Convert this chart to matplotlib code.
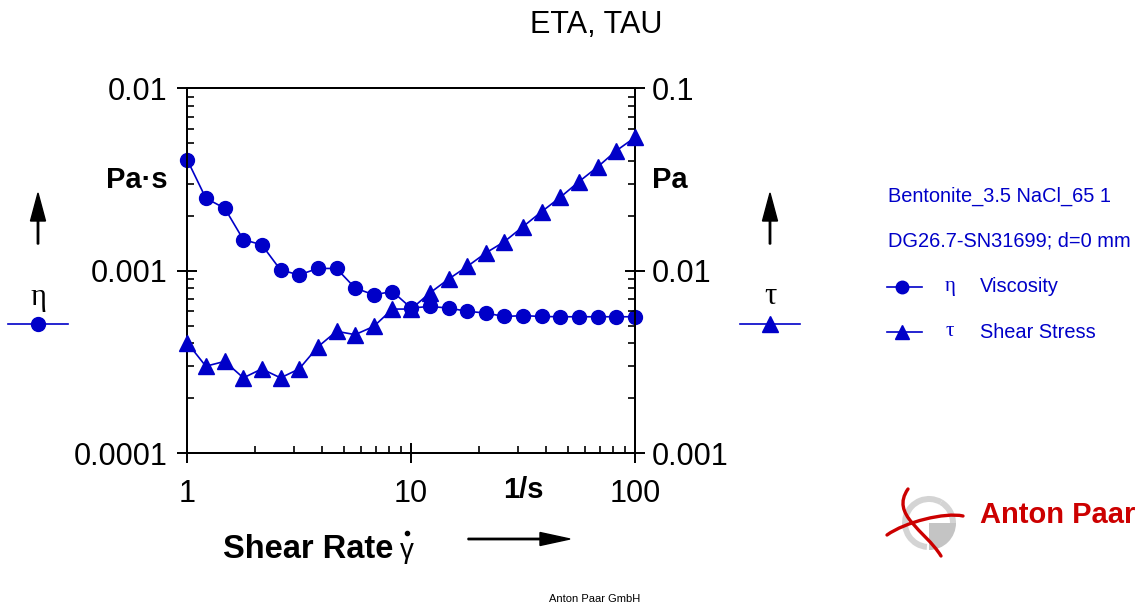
import matplotlib
matplotlib.use("Agg")
import matplotlib.pyplot as plt
from matplotlib.patches import FancyArrow, Wedge, PathPatch
from matplotlib.path import Path
from matplotlib.ticker import FixedLocator, FixedFormatter, LogLocator, NullFormatter

# ---- data -----------------------------------------------------------------
shear_rate = [1, 1.21, 1.47, 1.78, 2.15, 2.61, 3.16, 3.83, 4.64, 5.62, 6.81,
              8.25, 10, 12.1, 14.7, 17.8, 21.5, 26.1, 31.6, 38.3, 46.4, 56.2,
              68.1, 82.5, 100]
viscosity = [0.00405, 0.00250, 0.00220, 0.00148, 0.00139, 0.00101, 0.00095,
             0.00103, 0.00103, 0.000804, 0.000739, 0.00077, 0.000625,
             0.000638, 0.000625, 0.000600, 0.000587, 0.000562, 0.000568,
             0.000562, 0.000560, 0.000560, 0.000560, 0.000560, 0.000560]
shear_stress = [0.00403, 0.00300, 0.00319, 0.00259, 0.00290, 0.00259, 0.00290,
                0.00383, 0.00466, 0.00447, 0.00496, 0.00617, 0.00617, 0.00755,
                0.00901, 0.01056, 0.0125, 0.01445, 0.01746, 0.0211, 0.0253,
                0.0308, 0.0371, 0.0455, 0.0538]

x_ticks = [1, 10, 100]
x_tick_labels = ["1", "10", "100"]
eta_ticks = [1e-4, 1e-3, 1e-2]
eta_tick_labels = ["0.0001", "0.001", "0.01"]
tau_ticks = [1e-3, 1e-2, 1e-1]
tau_tick_labels = ["0.001", "0.01", "0.1"]

title = "ETA, TAU"
sample_name = "Bentonite_3.5 NaCl_65 1"
geometry = "DG26.7-SN31699; d=0 mm"
series_names = ["Viscosity", "Shear Stress"]
series_symbols = ["\u03b7", "\u03c4"]

# ---- style ----------------------------------------------------------------
W, H = 1145, 609
BLUE = "#0000C8"
RED = "#CC0000"
SANS = "Liberation Sans"
SERIF = "Liberation Serif"
plt.rcParams["font.family"] = [SANS, "DejaVu Sans"]

fig = plt.figure(figsize=(W / 100, H / 100), dpi=100)
fig.patch.set_facecolor("white")

x0, x1, y0, y1 = 187.3, 635.0, 88.3, 453.3
ax = fig.add_axes([x0 / W, 1 - y1 / H, (x1 - x0) / W, (y1 - y0) / H])
ax2 = ax.twinx()

for a in (ax, ax2):
    a.set_xscale("log")
    a.set_yscale("log")
    for s in a.spines.values():
        s.set_linewidth(1.4)
ax.set_xlim(1, 100)
ax.set_ylim(1e-4, 1e-2)
ax2.set_ylim(1e-3, 1e-1)

ax.plot(shear_rate, viscosity, color=BLUE, lw=1.2, marker="o", ms=10,
        mec=BLUE, mfc=BLUE, zorder=3, clip_on=False)
ax2.plot(shear_rate, shear_stress, color=BLUE, lw=1.2, marker="^", ms=11,
         mec=BLUE, mfc=BLUE, zorder=3, clip_on=False)

# ticks
ax.xaxis.set_major_locator(FixedLocator(x_ticks))
ax.xaxis.set_major_formatter(FixedFormatter(x_tick_labels))
ax.xaxis.set_minor_locator(LogLocator(base=10, subs=range(2, 10)))
ax.xaxis.set_minor_formatter(NullFormatter())
ax.yaxis.set_major_locator(FixedLocator(eta_ticks))
ax.yaxis.set_major_formatter(FixedFormatter(eta_tick_labels))
ax.yaxis.set_minor_locator(LogLocator(base=10, subs=range(2, 10)))
ax.yaxis.set_minor_formatter(NullFormatter())
ax2.yaxis.set_major_locator(FixedLocator(tau_ticks))
ax2.yaxis.set_major_formatter(FixedFormatter(tau_tick_labels))
ax2.yaxis.set_minor_locator(LogLocator(base=10, subs=range(2, 10)))
ax2.yaxis.set_minor_formatter(NullFormatter())

for a in (ax, ax2):
    a.tick_params(which="major", direction="inout", length=14, width=1.4,
                  labelsize=22, pad=7, colors="black")
    a.tick_params(which="minor", direction="in", length=5, width=1.2)
ax.tick_params(axis="x", which="major", pad=11.5)
ax2.tick_params(axis="y", which="major", pad=5)
ax.tick_params(axis="x", which="both", top=False)
ax2.tick_params(axis="x", which="both", top=False, bottom=False,
                labelbottom=False)
ax.tick_params(axis="y", which="both", right=False)

# ---- overlay in pixel coordinates -----------------------------------------
ov = fig.add_axes([0, 0, 1, 1])
ov.set_xlim(0, W)
ov.set_ylim(H, 0)
ov.axis("off")
ov.patch.set_visible(False)

ov.text(596, 25, title, fontsize=22, ha="center", va="center")
ov.text(168, 180, "Pa\u00b7s", fontsize=21, fontweight="bold", ha="right",
        va="center")
ov.text(652, 180, "Pa", fontsize=21, fontweight="bold", ha="left",
        va="center")
ov.text(523, 490, "1/s", fontsize=21, fontweight="bold", ha="center",
        va="center")

# x-axis caption with arrow
ov.text(223, 558, "Shear Rate", fontsize=23.5, fontweight="bold", ha="left",
        va="baseline")
ov.text(407, 558, "\u03b3", fontsize=20, ha="center", va="baseline",
        family=[SANS, "DejaVu Sans"])
ov.plot([407], [533], marker="o", ms=3, color="black")
ov.add_patch(FancyArrow(468, 539, 102, 0, width=1.4, head_width=13,
                        head_length=30, length_includes_head=True,
                        color="black"))

# y-axis captions with arrows
for xc, sym, mk in ((38, series_symbols[0], "o"), (770, series_symbols[1], "^")):
    ov.add_patch(FancyArrow(xc, 244, 0, -51, width=1.4, head_width=15,
                            head_length=28, length_includes_head=True,
                            color="black"))
    ov.text(xc, 297, sym, fontsize=22, family=[SERIF, "DejaVu Serif"],
            ha="center", va="center")
    ov.plot([xc - 30, xc + 30], [324, 324], color=BLUE, lw=1.2)
    ov.plot([xc], [324], marker=mk, ms=10 if mk == "o" else 11, color=BLUE)

# legend block
ov.text(888, 196, sample_name, fontsize=14.4, color=BLUE, ha="left",
        va="center")
ov.text(888, 241, geometry, fontsize=14.4, color=BLUE, ha="left", va="center")
for yy, sym, name, mk in ((287, series_symbols[0], series_names[0], "o"),
                          (332, series_symbols[1], series_names[1], "^")):
    ov.plot([887, 922], [yy, yy], color=BLUE, lw=1.2)
    ov.plot([902], [yy], marker=mk, ms=9 if mk == "o" else 10, color=BLUE)
    ov.text(950, yy, sym, fontsize=15, family=[SERIF, "DejaVu Serif"],
            color=BLUE, ha="center", va="center")
    ov.text(980, yy, name, fontsize=14.4, color=BLUE, ha="left", va="center")

# logo
cx, cy, r = 929, 523, 27
ov.add_patch(Wedge((cx, cy), r, 95, 300, width=6, facecolor="#d4d4d4",
                   edgecolor="none"))
ov.add_patch(Wedge((cx, cy), r, 0, 90, facecolor="#c4c4c4",
                   edgecolor="none"))
ov.add_patch(Wedge((cx, cy), r, 300, 360, width=6, facecolor="#d4d4d4",
                   edgecolor="none"))
stroke1 = Path([(908, 489), (890, 515), (925, 530), (941, 556)],
               [Path.MOVETO, Path.CURVE4, Path.CURVE4, Path.CURVE4])
stroke2 = Path([(887, 535), (905, 522), (945, 512), (963, 516)],
               [Path.MOVETO, Path.CURVE4, Path.CURVE4, Path.CURVE4])
for p in (stroke1, stroke2):
    ov.add_patch(PathPatch(p, facecolor="none", edgecolor=RED, lw=2.4,
                           capstyle="round"))
ov.text(980, 515, "Anton Paar", fontsize=21, fontweight="bold", color=RED,
        ha="left", va="center")

ov.text(595, 599, "Anton Paar GmbH", fontsize=8, ha="center", va="center")

fig.savefig("out.png", dpi=100)
